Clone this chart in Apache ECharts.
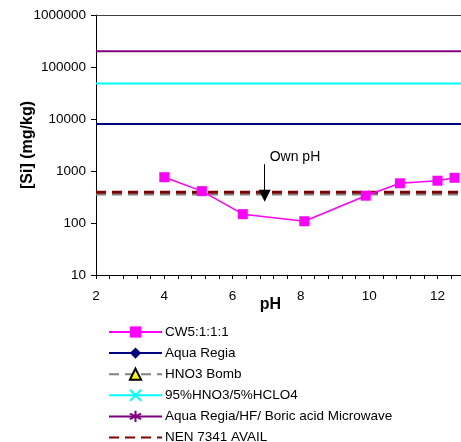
<!DOCTYPE html>
<html>
<head>
<meta charset="utf-8">
<script src="https://cdn.jsdelivr.net/npm/echarts@6/dist/echarts.min.js"></script>
<style>html,body{margin:0;padding:0;background:#fff;}#c{width:461px;height:442px;}</style>
</head>
<body>
<div id="c"></div>
<script>
// ---- data ----
const pH = [4.0, 5.1, 6.3, 8.1, 9.9, 10.9, 12.0, 12.5];
const cw5 = [760, 410, 148, 108, 335, 580, 650, 740];
const xRange = [2, 12.69];
const aquaRegia = 8000;
const hno3Bomb = 355;
const hno3Hclo4 = 48000;
const microwave = 200000;
const nen7341 = 392;
const ownPH = 6.94;
const ownPHArrow = [1350, 335];
const xTickLabels = [2, 4, 6, 8, 10, 12];
const seriesNames = ['CW5:1:1:1', 'Aqua Regia', 'HNO3 Bomb', '95%HNO3/5%HCLO4', 'Aqua Regia/HF/ Boric acid Microwave', 'NEN 7341 AVAIL'];

const FONT = '"Liberation Sans", Arial, sans-serif';
const flat = v => xRange.map(x => [x, v]);

const chart = echarts.init(document.getElementById('c'), null, {renderer: 'canvas'});
chart.setOption({
  animation: false,
  backgroundColor: '#fff',
  textStyle: {fontFamily: FONT},
  grid: {left: 96, top: 15, right: 0, bottom: 167, containLabel: false, outerBoundsMode: 'none'},
  legend: {
    orient: 'vertical', left: 108, top: 325, height: 200, padding: 0,
    itemWidth: 53, itemHeight: 14, itemGap: 7.1,
    textStyle: {fontFamily: FONT, fontSize: 13.5, color: '#000', lineHeight: 14, padding: [0, 0, 0, -2]},
    data: seriesNames
  },
  xAxis: [{
    type: 'value', min: xRange[0], max: xRange[1], interval: 0.4,
    name: 'pH', nameLocation: 'middle', nameGap: 22, nameMoveOverlap: false,
    nameTextStyle: {fontFamily: FONT, fontSize: 16, fontWeight: 'bold', color: '#000', padding: [0, 16, 0, 0]},
    splitLine: {show: false},
    axisLine: {lineStyle: {color: '#000', width: 1}},
    axisTick: {show: true, length: 4, lineStyle: {color: '#000'}},
    axisLabel: {
      margin: 14, fontSize: 13.5, color: '#000', fontFamily: FONT,
      showMaxLabel: false,
      formatter: v => {
        const r = Math.round(v);
        return (Math.abs(v - r) < 1e-6 && xTickLabels.indexOf(r) >= 0) ? String(r) : '';
      }
    }
  }, {
    type: 'value', position: 'top', min: xRange[0], max: xRange[1],
    axisLine: {show: true, lineStyle: {color: '#404040', width: 1}},
    axisTick: {show: false}, axisLabel: {show: false}, splitLine: {show: false}
  }],
  yAxis: {
    type: 'log', logBase: 10, min: 10, max: 1000000,
    name: '[Si] (mg/kg)', nameLocation: 'middle', nameGap: 60, nameMoveOverlap: false,
    nameTextStyle: {fontFamily: FONT, fontSize: 16, fontWeight: 'bold', color: '#000'},
    splitLine: {show: false},
    axisLine: {show: true, lineStyle: {color: '#000', width: 1}},
    axisTick: {show: true, length: 5, lineStyle: {color: '#000'}},
    axisLabel: {margin: 10, fontSize: 13.5, color: '#000', fontFamily: FONT,
                formatter: v => String(Math.round(v))}
  },
  series: [
    {
      name: seriesNames[4], type: 'line', data: flat(microwave), showSymbol: false,
      symbol: 'path://M5,0L5,10M0.7,2.5L9.3,7.5M0.7,7.5L9.3,2.5', symbolSize: 10,
      lineStyle: {color: '#800080', width: 2},
      itemStyle: {color: '#800080', borderColor: '#800080', borderWidth: 1.5}
    },
    {
      name: seriesNames[3], type: 'line', data: flat(hno3Hclo4), showSymbol: false,
      symbol: 'path://M0,0L10,10M10,0L0,10', symbolSize: 10,
      lineStyle: {color: '#00FFFF', width: 2},
      itemStyle: {color: '#00FFFF', borderColor: '#00FFFF', borderWidth: 2}
    },
    {
      name: seriesNames[1], type: 'line', data: flat(aquaRegia), showSymbol: false,
      symbol: 'diamond', symbolSize: 10,
      lineStyle: {color: '#000080', width: 2},
      itemStyle: {color: '#000080'}
    },
    {
      name: seriesNames[2], type: 'line', data: flat(hno3Bomb), showSymbol: false,
      symbol: 'triangle', symbolSize: 9,
      lineStyle: {color: '#808080', width: 2, type: [10, 6]},
      itemStyle: {color: '#FFFF00', borderColor: '#000', borderWidth: 1}
    },
    {
      name: seriesNames[5], type: 'line', data: flat(nen7341), showSymbol: false,
      symbol: 'circle', symbolSize: 1,
      lineStyle: {color: '#800000', width: 3, type: [10, 6]},
      itemStyle: {color: '#800000', opacity: 0}
    },
    {
      name: seriesNames[0], type: 'line', data: pH.map((x, i) => [x, cw5[i]]),
      symbol: 'rect', symbolSize: 10,
      lineStyle: {color: '#FF00FF', width: 1.5},
      itemStyle: {color: '#FF00FF'},
      markLine: {
        silent: true, animation: false,
        symbol: ['none', 'triangle'], symbolSize: [12, 12],
        lineStyle: {color: '#000', width: 1, type: 'solid'},
        label: {show: true, position: 'start', formatter: 'Own pH', color: '#000',
                fontFamily: FONT, fontSize: 14, align: 'left', distance: 0, padding: [0, 0, 0, 5]},
        data: [[{coord: [ownPH, ownPHArrow[0]]}, {coord: [ownPH, ownPHArrow[1]]}]]
      }
    }
  ]
});
</script>
</body>
</html>
